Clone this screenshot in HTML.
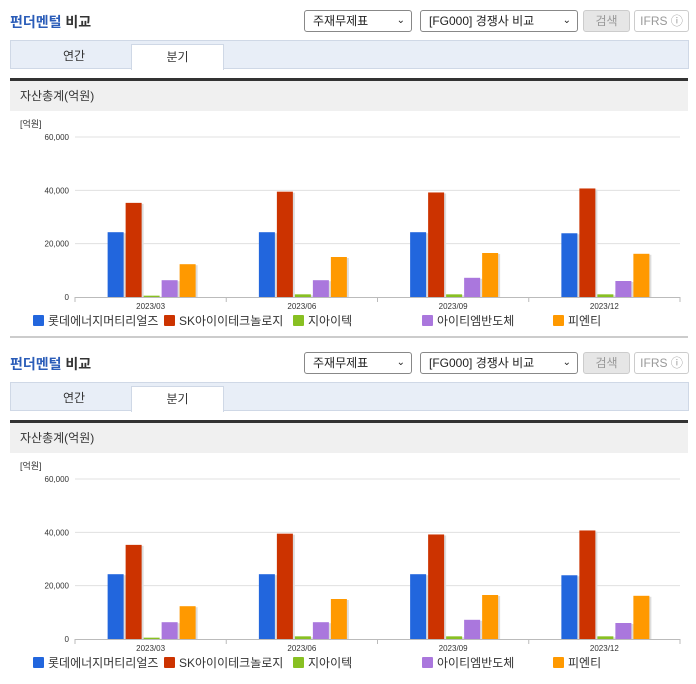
<!DOCTYPE html>
<html><head><meta charset="utf-8">
<style>
body{margin:0;width:696px;height:684px;overflow:hidden;background:#fff;font-family:"Liberation Sans","Noto Sans CJK KR",sans-serif;}
.panel{position:absolute;left:0;width:696px;height:342px;}
.abs{position:absolute;}
.title{left:10px;top:12px;font-size:14px;font-weight:bold;color:#333;}
.title span{color:#2a5cb8;}
.sel{top:10px;height:20px;border:1px solid #888;border-radius:3px;background:#fff;font-size:12px;line-height:20px;padding-left:8px;box-sizing:content-box;color:#222;}
.sel i{position:absolute;right:6px;top:0;font-style:normal;font-size:10px;}
.btn{top:10px;height:20px;border:1px solid #ccc;border-radius:3px;font-size:12px;line-height:20px;text-align:center;color:#999;}
.tabs{left:10px;top:40px;width:677px;height:27px;background:#e8eef7;border:1px solid #cfd8e6;}
.tab{font-size:12px;text-align:center;line-height:24px;color:#333;}
.hdr{left:10px;top:81px;width:678px;height:30px;background:#f0f0f0;font-size:12px;line-height:30px;color:#333;}
svg text{font-family:"Liberation Sans","Noto Sans CJK KR",sans-serif;}
</style></head><body>
<div class="panel" id="p1" style="top:0">
 <div class="abs title"><span>펀더멘털</span> 비교</div>
 <div class="abs sel" style="left:304px;width:98px">주재무제표<i>&#8964;</i></div>
 <div class="abs sel" style="left:420px;width:148px">[FG000] 경쟁사 비교<i>&#8964;</i></div>
 <div class="abs btn" style="left:583px;width:45px;background:#e6e6e6">검색</div>
 <div class="abs btn" style="left:634px;width:53px;background:#fff">IFRS ⓘ</div>
 <div class="abs tabs"></div>
 <div class="abs tab" style="left:28px;top:44px;width:92px">연간</div>
 <div class="abs tab" style="left:131px;top:44px;width:91px;height:25px;background:#fff;border:1px solid #cfd8e6;border-bottom:none">분기</div>
 <div class="abs" style="left:10px;top:78px;width:678px;height:3px;background:#333"></div>
 <div class="abs hdr"><span style="padding-left:10px">자산총계(억원)</span></div>
 <div class="abs" style="left:10px;top:336px;width:678px;height:2px;background:#ccc"></div>
 <svg class="abs chart" style="left:0;top:0" width="696" height="342"></svg>
</div>
<div class="panel" id="p2" style="top:342px">
 <div class="abs title"><span>펀더멘털</span> 비교</div>
 <div class="abs sel" style="left:304px;width:98px">주재무제표<i>&#8964;</i></div>
 <div class="abs sel" style="left:420px;width:148px">[FG000] 경쟁사 비교<i>&#8964;</i></div>
 <div class="abs btn" style="left:583px;width:45px;background:#e6e6e6">검색</div>
 <div class="abs btn" style="left:634px;width:53px;background:#fff">IFRS ⓘ</div>
 <div class="abs tabs"></div>
 <div class="abs tab" style="left:28px;top:44px;width:92px">연간</div>
 <div class="abs tab" style="left:131px;top:44px;width:91px;height:25px;background:#fff;border:1px solid #cfd8e6;border-bottom:none">분기</div>
 <div class="abs" style="left:10px;top:78px;width:678px;height:3px;background:#333"></div>
 <div class="abs hdr"><span style="padding-left:10px">자산총계(억원)</span></div>
 <svg class="abs chart" style="left:0;top:0" width="696" height="342"></svg>
</div>
<script>
const categories=["2023/03","2023/06","2023/09","2023/12"];
const seriesNames=["롯데에너지머티리얼즈","SK아이이테크놀로지","지아이텍","아이티엠반도체","피엔티"];
const lotte=[24300,24300,24300,23900];
const skiet=[35300,39500,39200,40700];
const giitek=[500,1000,1000,1000];
const itm=[6300,6300,7200,6000];
const pnt=[12300,15000,16500,16200];
const yTicks=[0,20000,40000,60000];
const yTickLabels=["0","20,000","40,000","60,000"];
const colors=["#2266dd","#cc3300","#88c022","#aa77dd","#ff9900"];
const series=[lotte,skiet,giitek,itm,pnt];
const NS="http://www.w3.org/2000/svg";
const x0=75,x1=680,y0=297,yTop=137,yMax=60000;
function yS(v){return y0-(v/yMax)*(y0-yTop);}
function xBand(i){return x0+i*(x1-x0)/categories.length;}
function mk(svg,tag,a){const e=document.createElementNS(NS,tag);for(const k in a)e.setAttribute(k,a[k]);svg.appendChild(e);return e;}
document.querySelectorAll('svg.chart').forEach(svg=>{
  const u=mk(svg,'text',{x:20,y:127,'font-size':9,fill:'#333'});u.textContent='[억원]';
  
  
  yTicks.forEach((t,i)=>{
    const y=yS(t);
    if(t>0){const g=mk(svg,'line',{x1:x0,x2:x1,y1:y,y2:y,stroke:'#e0e0e0'});
      
      }
    const tx=mk(svg,'text',{x:69,y:y+3,'font-size':8,fill:'#333','text-anchor':'end'});
    tx.textContent=yTickLabels[i];
    
    
  });
  const ax=mk(svg,'line',{x1:x0,x2:x1,y1:y0+0.5,y2:y0+0.5,stroke:'#bbb'});
  
  
  const bw=(x1-x0)/categories.length;
  categories.forEach((c,i)=>{
    const bx=xBand(i);
    for(let k=0;k<=1;k++){ if(k==1&&i<categories.length-1)continue;
      const tk=mk(svg,'line',{x1:bx+k*bw,x2:bx+k*bw,y1:y0,y2:y0+5,stroke:'#bbb'});
      
      }
    const tl=mk(svg,'text',{x:bx+bw/2,y:y0+12,'font-size':8,fill:'#333','text-anchor':'middle'});
    tl.textContent=c;
    
    
    const cx=bx+bw/2, step=18, w=16, start=cx-45+2;
    series.forEach((s,j)=>{
      const y=yS(s[i]);
      const sh=mk(svg,'rect',{x:start+j*step+2,y:y+1,width:w,height:y0-y-1,fill:'#ddd'});
      
      
      const r=mk(svg,'rect',{x:start+j*step,y:y,width:w,height:y0-y,fill:colors[j]});
      
      
    });
  });
  const lx=[33,164,293,422,553];
  seriesNames.forEach((n,j)=>{
    const r=mk(svg,'rect',{x:lx[j],y:315,width:11,height:11,fill:colors[j],rx:1});
    
    
    const t=mk(svg,'text',{x:lx[j]+15,y:325,'font-size':12,fill:'#333'});
    t.textContent=n;
    
    
  });
});
</script>
</body></html>
